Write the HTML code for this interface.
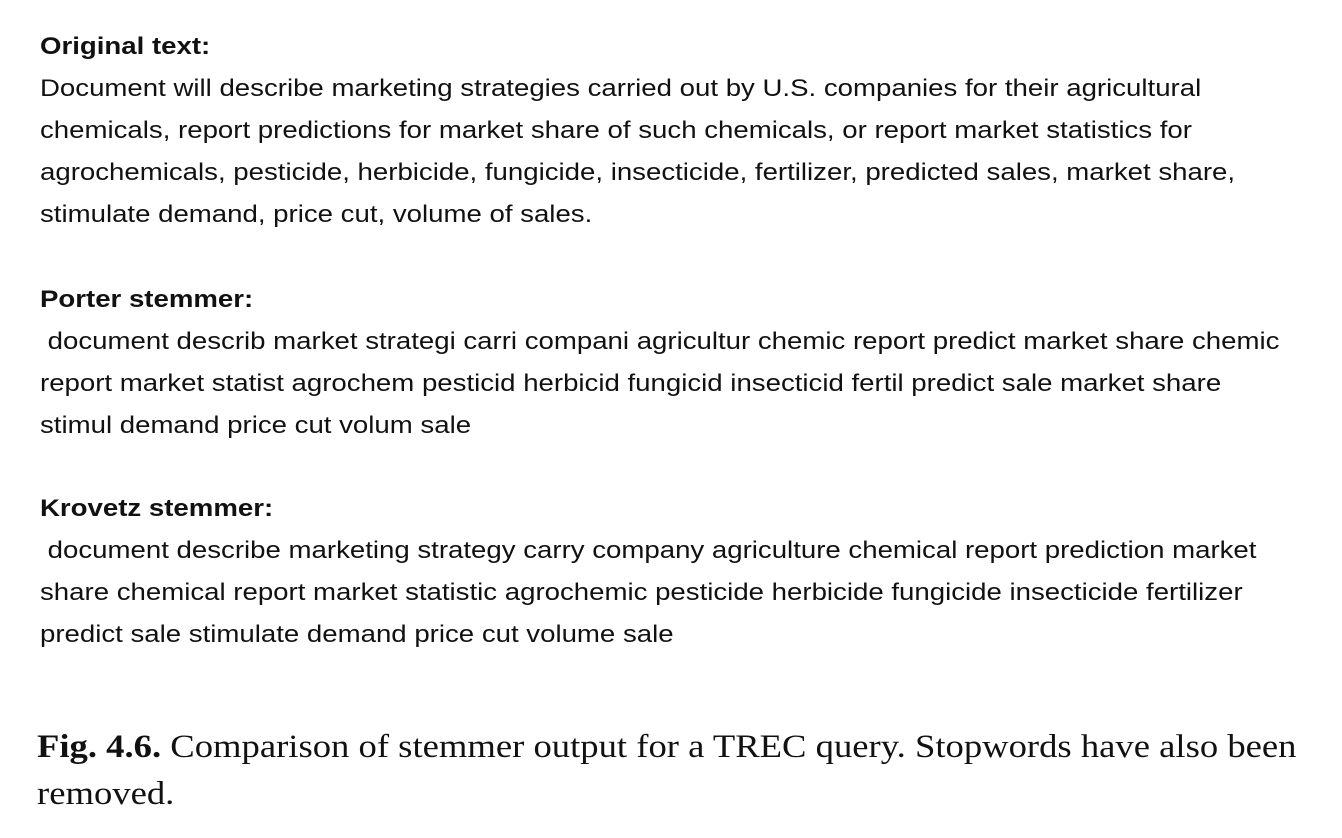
<!DOCTYPE html>
<html>
<head>
<meta charset="utf-8">
<style>
  html, body { margin:0; padding:0; background:#fff; }
  body { width:1342px; height:838px; position:relative; overflow:hidden; color:#111; }
  .l { position:absolute; left:40px; white-space:nowrap; font-family:"Liberation Sans", sans-serif; font-size:24px; line-height:42px; transform-origin:0 50%; transform:scaleX(1.15); }
  .b { font-weight:bold; }
  .cap { position:absolute; left:37px; white-space:nowrap; font-family:"Liberation Serif", serif; font-size:33px; line-height:46px; color:#111; transform-origin:0 50%; transform:scaleX(1.11); }
</style>
</head>
<body>
  <div class="l b" style="top:26px">Original text:</div>
  <div class="l" style="top:68px">Document will describe marketing strategies carried out by U.S. companies for their agricultural</div>
  <div class="l" style="top:110px">chemicals, report predictions for market share of such chemicals, or report market statistics for</div>
  <div class="l" style="top:152px">agrochemicals, pesticide, herbicide, fungicide, insecticide, fertilizer, predicted sales, market share,</div>
  <div class="l" style="top:194px">stimulate demand, price cut, volume of sales.</div>

  <div class="l b" style="top:279px">Porter stemmer:</div>
  <div class="l" style="top:321px">&nbsp;document describ market strategi carri compani agricultur chemic report predict market share chemic</div>
  <div class="l" style="top:363px">report market statist agrochem pesticid herbicid fungicid insecticid fertil predict sale market share</div>
  <div class="l" style="top:405px">stimul demand price cut volum sale</div>

  <div class="l b" style="top:488px">Krovetz stemmer:</div>
  <div class="l" style="top:530px">&nbsp;document describe marketing strategy carry company agriculture chemical report prediction market</div>
  <div class="l" style="top:572px">share chemical report market statistic agrochemic pesticide herbicide fungicide insecticide fertilizer</div>
  <div class="l" style="top:614px">predict sale stimulate demand price cut volume sale</div>

  <div class="cap" style="top:724px"><b>Fig. 4.6.</b> Comparison of stemmer output for a TREC query. Stopwords have also been</div>
  <div class="cap" style="top:771px">removed.</div>
</body>
</html>
